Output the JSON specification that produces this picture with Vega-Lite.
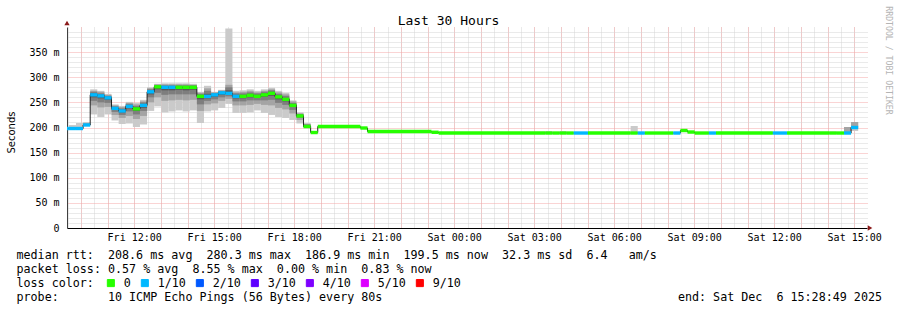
{
  "$schema": "https://vega.github.io/schema/vega-lite/v6.json",
  "width": 800,
  "height": 201,
  "autosize": {"type": "none"},
  "padding": {"left": 67, "top": 27, "right": 30, "bottom": 82},
  "background": "white",
  "config": {
    "view": {"stroke": null},
    "axis": {"labelFont": "DejaVu Sans Mono", "labelColor": "#000", "titleColor": "#000", "titleFontWeight": "normal", "titleFont": "DejaVu Sans Mono"}
  },
  "datasets": {
    "bins": [
      {"t": "2025-12-05T09:17:00", "t2": "2025-12-05T09:33:00", "m": 198, "l": "1/10"},
      {"t": "2025-12-05T09:33:00", "t2": "2025-12-05T09:49:00", "m": 198, "l": "1/10", "a1": 197, "a2": 197, "a3": 198, "a4": 198, "b4": 198, "b3": 199, "b2": 200, "b1": 205},
      {"t": "2025-12-05T09:49:00", "t2": "2025-12-05T10:05:00", "m": 198, "l": "1/10", "a1": 197, "a2": 197, "a3": 198, "a4": 198, "b4": 199, "b3": 200, "b2": 201, "b1": 209},
      {"t": "2025-12-05T10:05:00", "t2": "2025-12-05T10:21:00", "m": 205, "l": "1/10", "a1": 203, "a2": 204, "a3": 204, "a4": 205, "b4": 206, "b3": 207, "b2": 209, "b1": 211},
      {"t": "2025-12-05T10:21:00", "t2": "2025-12-05T10:37:00", "m": 265, "l": "1/10", "a1": 226, "a2": 244, "a3": 253, "a4": 260, "b4": 268, "b3": 271, "b2": 273, "b1": 276},
      {"t": "2025-12-05T10:37:00", "t2": "2025-12-05T10:53:00", "m": 263, "l": "1/10", "a1": 221, "a2": 240, "a3": 250, "a4": 258, "b4": 266, "b3": 268, "b2": 271, "b1": 273},
      {"t": "2025-12-05T10:53:00", "t2": "2025-12-05T11:09:00", "m": 259, "l": "1/10", "a1": 226, "a2": 241, "a3": 249, "a4": 255, "b4": 261, "b3": 263, "b2": 265, "b1": 267},
      {"t": "2025-12-05T11:09:00", "t2": "2025-12-05T11:25:00", "m": 238, "l": "1/10", "a1": 214, "a2": 225, "a3": 231, "a4": 235, "b4": 240, "b3": 242, "b2": 244, "b1": 246},
      {"t": "2025-12-05T11:25:00", "t2": "2025-12-05T11:41:00", "m": 233, "l": "1/10", "a1": 207, "a2": 219, "a3": 225, "a4": 230, "b4": 236, "b3": 238, "b2": 241, "b1": 243},
      {"t": "2025-12-05T11:41:00", "t2": "2025-12-05T11:57:00", "m": 242, "l": "1/10", "a1": 208, "a2": 223, "a3": 232, "a4": 238, "b4": 244, "b3": 247, "b2": 249, "b1": 251},
      {"t": "2025-12-05T11:57:00", "t2": "2025-12-05T12:13:00", "m": 237, "l": "0", "a1": 201, "a2": 217, "a3": 226, "a4": 233, "b4": 240, "b3": 243, "b2": 246, "b1": 249},
      {"t": "2025-12-05T12:13:00", "t2": "2025-12-05T12:29:00", "m": 244, "l": "1/10", "a1": 206, "a2": 223, "a3": 233, "a4": 239, "b4": 247, "b3": 250, "b2": 252, "b1": 255},
      {"t": "2025-12-05T12:29:00", "t2": "2025-12-05T12:45:00", "m": 271, "l": "1/10", "a1": 233, "a2": 250, "a3": 260, "a4": 266, "b4": 273, "b3": 276, "b2": 278, "b1": 280},
      {"t": "2025-12-05T12:45:00", "t2": "2025-12-05T13:01:00", "m": 281, "l": "0", "a1": 242, "a2": 260, "a3": 269, "a4": 276, "b4": 283, "b3": 284, "b2": 286, "b1": 287},
      {"t": "2025-12-05T13:01:00", "t2": "2025-12-05T13:17:00", "m": 280, "l": "1/10", "a1": 230, "a2": 253, "a3": 265, "a4": 274, "b4": 282, "b3": 284, "b2": 286, "b1": 288},
      {"t": "2025-12-05T13:17:00", "t2": "2025-12-05T13:33:00", "m": 280, "l": "1/10", "a1": 232, "a2": 254, "a3": 266, "a4": 274, "b4": 282, "b3": 284, "b2": 286, "b1": 288},
      {"t": "2025-12-05T13:33:00", "t2": "2025-12-05T13:49:00", "m": 280, "l": "0", "a1": 234, "a2": 255, "a3": 266, "a4": 275, "b4": 282, "b3": 284, "b2": 286, "b1": 288},
      {"t": "2025-12-05T13:49:00", "t2": "2025-12-05T14:05:00", "m": 280, "l": "0", "a1": 232, "a2": 254, "a3": 266, "a4": 274, "b4": 282, "b3": 284, "b2": 286, "b1": 288},
      {"t": "2025-12-05T14:05:00", "t2": "2025-12-05T14:21:00", "m": 280, "l": "0", "a1": 234, "a2": 255, "a3": 266, "a4": 275, "b4": 282, "b3": 284, "b2": 285, "b1": 287},
      {"t": "2025-12-05T14:21:00", "t2": "2025-12-05T14:37:00", "m": 262, "l": "0", "a1": 209, "a2": 233, "a3": 246, "a4": 256, "b4": 264, "b3": 267, "b2": 269, "b1": 271},
      {"t": "2025-12-05T14:37:00", "t2": "2025-12-05T14:53:00", "m": 262, "l": "1/10", "a1": 232, "a2": 246, "a3": 253, "a4": 258, "b4": 267, "b3": 273, "b2": 278, "b1": 283},
      {"t": "2025-12-05T14:53:00", "t2": "2025-12-05T15:09:00", "m": 265, "l": "1/10", "a1": 234, "a2": 248, "a3": 256, "a4": 261, "b4": 267, "b3": 268, "b2": 270, "b1": 271},
      {"t": "2025-12-05T15:09:00", "t2": "2025-12-05T15:25:00", "m": 269, "l": "1/10", "a1": 239, "a2": 253, "a3": 260, "a4": 265, "b4": 271, "b3": 272, "b2": 274, "b1": 275},
      {"t": "2025-12-05T15:25:00", "t2": "2025-12-05T15:41:00", "m": 268, "l": "1/10", "a1": 247, "a2": 257, "a3": 262, "a4": 266, "b4": 274, "b3": 280, "b2": 285, "b1": 397},
      {"t": "2025-12-05T15:41:00", "t2": "2025-12-05T15:57:00", "m": 262, "l": "1/10", "a1": 229, "a2": 244, "a3": 252, "a4": 258, "b4": 265, "b3": 268, "b2": 270, "b1": 273},
      {"t": "2025-12-05T15:57:00", "t2": "2025-12-05T16:13:00", "m": 262, "l": "0", "a1": 229, "a2": 244, "a3": 252, "a4": 258, "b4": 265, "b3": 268, "b2": 271, "b1": 274},
      {"t": "2025-12-05T16:13:00", "t2": "2025-12-05T16:29:00", "m": 264, "l": "0", "a1": 230, "a2": 245, "a3": 254, "a4": 260, "b4": 267, "b3": 270, "b2": 273, "b1": 276},
      {"t": "2025-12-05T16:29:00", "t2": "2025-12-05T16:45:00", "m": 262, "l": "0", "a1": 234, "a2": 247, "a3": 254, "a4": 259, "b4": 265, "b3": 268, "b2": 270, "b1": 273},
      {"t": "2025-12-05T16:45:00", "t2": "2025-12-05T17:01:00", "m": 265, "l": "0", "a1": 229, "a2": 245, "a3": 254, "a4": 261, "b4": 268, "b3": 271, "b2": 273, "b1": 276},
      {"t": "2025-12-05T17:01:00", "t2": "2025-12-05T17:17:00", "m": 268, "l": "0", "a1": 225, "a2": 244, "a3": 255, "a4": 263, "b4": 271, "b3": 274, "b2": 276, "b1": 279},
      {"t": "2025-12-05T17:17:00", "t2": "2025-12-05T17:33:00", "m": 261, "l": "0", "a1": 221, "a2": 239, "a3": 249, "a4": 256, "b4": 264, "b3": 267, "b2": 270, "b1": 273},
      {"t": "2025-12-05T17:33:00", "t2": "2025-12-05T17:49:00", "m": 256, "l": "0", "a1": 219, "a2": 236, "a3": 245, "a4": 252, "b4": 259, "b3": 263, "b2": 266, "b1": 269},
      {"t": "2025-12-05T17:49:00", "t2": "2025-12-05T18:05:00", "m": 244, "l": "0", "a1": 215, "a2": 228, "a3": 235, "a4": 241, "b4": 247, "b3": 249, "b2": 252, "b1": 254},
      {"t": "2025-12-05T18:05:00", "t2": "2025-12-05T18:21:00", "m": 223, "l": "0", "a1": 208, "a2": 215, "a3": 219, "a4": 221, "b4": 225, "b3": 227, "b2": 228, "b1": 230},
      {"t": "2025-12-05T18:21:00", "t2": "2025-12-05T18:37:00", "m": 202, "l": "0", "a1": 198, "a2": 200, "a3": 201, "a4": 202, "b4": 204, "b3": 206, "b2": 207, "b1": 209},
      {"t": "2025-12-05T18:37:00", "t2": "2025-12-05T18:53:00", "m": 190, "l": "0"},
      {"t": "2025-12-05T18:53:00", "t2": "2025-12-05T20:29:00", "m": 202, "l": "0"},
      {"t": "2025-12-05T20:29:00", "t2": "2025-12-05T20:45:00", "m": 199, "l": "0"},
      {"t": "2025-12-05T20:45:00", "t2": "2025-12-05T23:09:00", "m": 192, "l": "0"},
      {"t": "2025-12-05T23:09:00", "t2": "2025-12-05T23:25:00", "m": 190.5, "l": "0"},
      {"t": "2025-12-05T23:25:00", "t2": "2025-12-06T03:25:00", "m": 189, "l": "0"},
      {"t": "2025-12-06T03:25:00", "t2": "2025-12-06T03:41:00", "m": 189, "l": "0", "a1": 189, "b1": 193},
      {"t": "2025-12-06T03:41:00", "t2": "2025-12-06T03:57:00", "m": 189, "l": "0"},
      {"t": "2025-12-06T03:57:00", "t2": "2025-12-06T04:13:00", "m": 189, "l": "0", "a1": 189, "b1": 193},
      {"t": "2025-12-06T04:13:00", "t2": "2025-12-06T04:29:00", "m": 189, "l": "0"},
      {"t": "2025-12-06T04:29:00", "t2": "2025-12-06T05:01:00", "m": 189, "l": "1/10"},
      {"t": "2025-12-06T05:01:00", "t2": "2025-12-06T06:37:00", "m": 189, "l": "0"},
      {"t": "2025-12-06T06:37:00", "t2": "2025-12-06T06:53:00", "m": 189, "l": "0", "a1": 189, "b1": 203},
      {"t": "2025-12-06T06:53:00", "t2": "2025-12-06T07:09:00", "m": 189, "l": "1/10"},
      {"t": "2025-12-06T07:09:00", "t2": "2025-12-06T08:13:00", "m": 189, "l": "0"},
      {"t": "2025-12-06T08:13:00", "t2": "2025-12-06T08:29:00", "m": 189, "l": "1/10"},
      {"t": "2025-12-06T08:29:00", "t2": "2025-12-06T08:45:00", "m": 194, "l": "0"},
      {"t": "2025-12-06T08:45:00", "t2": "2025-12-06T09:01:00", "m": 191, "l": "0"},
      {"t": "2025-12-06T09:01:00", "t2": "2025-12-06T09:33:00", "m": 189, "l": "0"},
      {"t": "2025-12-06T09:33:00", "t2": "2025-12-06T09:49:00", "m": 189, "l": "1/10"},
      {"t": "2025-12-06T09:49:00", "t2": "2025-12-06T11:57:00", "m": 189, "l": "0"},
      {"t": "2025-12-06T11:57:00", "t2": "2025-12-06T12:29:00", "m": 189, "l": "1/10"},
      {"t": "2025-12-06T12:29:00", "t2": "2025-12-06T14:05:00", "m": 189, "l": "0"},
      {"t": "2025-12-06T14:05:00", "t2": "2025-12-06T14:21:00", "m": 189, "l": "0", "a1": 189, "b1": 192},
      {"t": "2025-12-06T14:21:00", "t2": "2025-12-06T14:37:00", "m": 189, "l": "0"},
      {"t": "2025-12-06T14:37:00", "t2": "2025-12-06T14:53:00", "m": 189, "l": "1/10", "a1": 187, "a2": 187, "b2": 201, "b1": 201},
      {"t": "2025-12-06T14:53:00", "t2": "2025-12-06T15:09:00", "m": 200, "l": "1/10", "a1": 193, "a2": 198, "b2": 211, "b1": 211}
    ]
  },
  "data": {"name": "bins"},
  "layer": [
    {
      "mark": {"type": "rect", "color": "#cacaca", "clip": true},
      "encoding": {
        "x": {"field": "t", "type": "temporal",
          "scale": {"domain": ["2025-12-05T09:28:49", "2025-12-06T15:28:49"]},
          "axis": {"orient": "top", "grid": true, "gridColor": "#d4d4d4", "gridDash": [1, 1], "tickCount": 60, "labels": false, "ticks": false, "domain": false,
            "title": "Last 30 Hours", "titleX": 381, "titleY": -3, "titleAlign": "center", "titleBaseline": "alphabetic", "titleFontSize": 13}},
        "x2": {"field": "t2"},
        "y": {"field": "a1", "type": "quantitative", "scale": {"domain": [0, 400]},
          "axis": {"orient": "right", "grid": true, "gridColor": "#d4d4d4", "gridDash": [1, 1],
            "values": [10, 20, 30, 40, 60, 70, 80, 90, 110, 120, 130, 140, 160, 170, 180, 190, 210, 220, 230, 240, 260, 270, 280, 290, 310, 320, 330, 340, 360, 370, 380, 390],
            "labels": false, "ticks": false, "domain": false,
            "title": "RRDTOOL / TOBI OETIKER", "titleX": 20, "titleY": 33, "titleAngle": 90, "titleAlign": "center", "titleBaseline": "middle", "titleFontSize": 8.2, "titleColor": "#b4b4b4"}},
        "y2": {"field": "b1"}
      }
    },
    {
      "mark": {"type": "rect", "color": "#a4a4a4", "clip": true},
      "encoding": {
        "x": {"field": "t", "type": "temporal",
          "axis": {"orient": "top", "grid": true, "gridColor": "#f4a8a8", "gridDash": [1, 1], "tickCount": 30, "labels": false, "ticks": false, "domain": false, "title": null}},
        "x2": {"field": "t2"},
        "y": {"field": "a2", "type": "quantitative",
          "axis": {"orient": "right", "grid": true, "gridColor": "#f4a8a8", "gridDash": [1, 1], "values": [50, 100, 150, 200, 250, 300, 350], "labels": false, "ticks": false, "domain": false, "title": null}},
        "y2": {"field": "b2"}
      }
    },
    {
      "mark": {"type": "rect", "color": "#7e7e7e", "clip": true},
      "encoding": {
        "x": {"field": "t", "type": "temporal",
          "axis": {"orient": "bottom", "grid": false, "tickCount": 10, "format": "%a %H:%M", "labelFontSize": 10, "labelPadding": 4, "labelFlush": false, "ticks": false, "domain": true, "domainColor": "#000",
            "title": "median rtt:\u00a0\u00a0208.6 ms avg\u00a0\u00a0280.3 ms max\u00a0\u00a0186.9 ms min\u00a0\u00a0199.5 ms now\u00a0\u00a032.3 ms sd\u00a0\u00a06.4\u00a0\u00a0\u00a0am/s",
            "titleX": -51, "titleY": 30, "titleAlign": "left", "titleBaseline": "alphabetic", "titleFontSize": 11.7}},
        "x2": {"field": "t2"},
        "y": {"field": "a3", "type": "quantitative",
          "axis": {"orient": "left", "grid": false, "values": [0, 50, 100, 150, 200, 250, 300, 350], "labelExpr": "datum.value == 0 ? '0\u00a0\u00a0' : datum.value + ' m'", "labelFontSize": 10, "labelPadding": 8, "ticks": false, "domain": true, "domainColor": "#404040",
            "title": "Seconds", "titleX": -56, "titleY": 105, "titleAngle": -90, "titleAlign": "center", "titleBaseline": "middle", "titleFont": "DejaVu Sans", "titleFontSize": 10}},
        "y2": {"field": "b3"}
      }
    },
    {
      "mark": {"type": "rect", "color": "#585858", "clip": true},
      "encoding": {
        "x": {"field": "t", "type": "temporal",
          "axis": {"orient": "bottom", "grid": false, "labels": false, "ticks": false, "domain": false,
            "title": "packet loss: 0.57 % avg\u00a0\u00a08.55 % max\u00a0\u00a00.00 % min\u00a0\u00a00.83 % now",
            "titleX": -51, "titleY": 44, "titleAlign": "left", "titleBaseline": "alphabetic", "titleFontSize": 11.7}},
        "x2": {"field": "t2"},
        "y": {"field": "a4", "type": "quantitative", "axis": {"orient": "left", "grid": false, "labels": false, "ticks": false, "domain": false, "title": null}},
        "y2": {"field": "b4"}
      }
    },
    {
      "mark": {"type": "line", "interpolate": "step-after", "color": "#202020", "strokeWidth": 1, "clip": true},
      "encoding": {
        "x": {"field": "t", "type": "temporal",
          "axis": {"orient": "bottom", "grid": false, "labels": false, "ticks": false, "domain": false,
            "title": "loss color:",
            "titleX": -51, "titleY": 58, "titleAlign": "left", "titleBaseline": "alphabetic", "titleFontSize": 11.7}},
        "y": {"field": "m", "type": "quantitative", "axis": {"orient": "left", "grid": false, "labels": false, "ticks": false, "domain": false, "title": null}}
      }
    },
    {
      "mark": {"type": "rule", "strokeWidth": 3.4, "strokeCap": "butt", "clip": true},
      "encoding": {
        "x": {"field": "t", "type": "temporal",
          "axis": {"orient": "bottom", "grid": false, "labels": false, "ticks": false, "domain": false,
            "title": "probe:\u00a0\u00a0\u00a0\u00a0\u00a0\u00a0\u00a010 ICMP Echo Pings (56 Bytes) every 80s\u00a0\u00a0\u00a0\u00a0\u00a0\u00a0\u00a0\u00a0\u00a0\u00a0\u00a0\u00a0\u00a0\u00a0\u00a0\u00a0\u00a0\u00a0\u00a0\u00a0\u00a0\u00a0\u00a0\u00a0\u00a0\u00a0\u00a0\u00a0\u00a0\u00a0\u00a0\u00a0\u00a0\u00a0\u00a0\u00a0\u00a0\u00a0\u00a0\u00a0\u00a0\u00a0end: Sat Dec\u00a0\u00a06 15:28:49 2025",
            "titleX": -51, "titleY": 72, "titleAlign": "left", "titleBaseline": "alphabetic", "titleFontSize": 11.7}},
        "x2": {"field": "t2"},
        "y": {"field": "m", "type": "quantitative", "axis": {"orient": "left", "grid": false, "labels": false, "ticks": false, "domain": false, "title": null}},
        "color": {"field": "l", "type": "nominal",
          "scale": {"domain": ["0", "1/10", "2/10", "3/10", "4/10", "5/10", "9/10"], "range": ["#26ff00", "#00b8ff", "#0059ff", "#5e00ff", "#7e00ff", "#dd00ff", "#ff0000"]},
          "legend": {"orient": "none", "legendX": 38, "legendY": 250, "direction": "horizontal", "title": null, "padding": 0,
            "symbolType": "square", "symbolSize": 50, "symbolStrokeColor": "#000", "symbolStrokeWidth": 1,
            "labelFont": "DejaVu Sans Mono", "labelFontSize": 11.7, "labelColor": "#000", "labelOffset": 7, "columnPadding": 8,
            "encode": {"symbols": {"update": {"fill": {"scale": "color", "field": "value"}, "fillOpacity": {"value": 1}, "stroke": {"value": "#000"}, "strokeWidth": {"value": 1}}}}}}
      }
    },
    {
      "data": {"values": [{}]},
      "mark": {"type": "point", "shape": "triangle-up", "filled": true, "color": "#8b1a1a", "size": 28, "opacity": 1, "yOffset": -4},
      "encoding": {
        "x": {"datum": {"year": 2025, "month": 12, "date": 5, "hours": 9, "minutes": 28, "seconds": 49}, "type": "temporal",
          "axis": {"orient": "bottom", "grid": false, "labels": false, "ticks": false, "domain": false, "title": null}},
        "y": {"datum": 400, "type": "quantitative", "axis": {"orient": "left", "grid": false, "labels": false, "ticks": false, "domain": false, "title": null}}
      }
    },
    {
      "data": {"values": [{}]},
      "mark": {"type": "point", "shape": "triangle-right", "filled": true, "color": "#8b1a1a", "size": 28, "opacity": 1, "xOffset": 3},
      "encoding": {
        "x": {"datum": {"year": 2025, "month": 12, "date": 6, "hours": 15, "minutes": 28, "seconds": 49}, "type": "temporal",
          "axis": {"orient": "bottom", "grid": false, "labels": false, "ticks": false, "domain": false, "title": null}},
        "y": {"datum": 0, "type": "quantitative", "axis": {"orient": "left", "grid": false, "labels": false, "ticks": false, "domain": false, "title": null}}
      }
    }
  ],
  "resolve": {"axis": {"x": "independent", "y": "independent"}}
}
